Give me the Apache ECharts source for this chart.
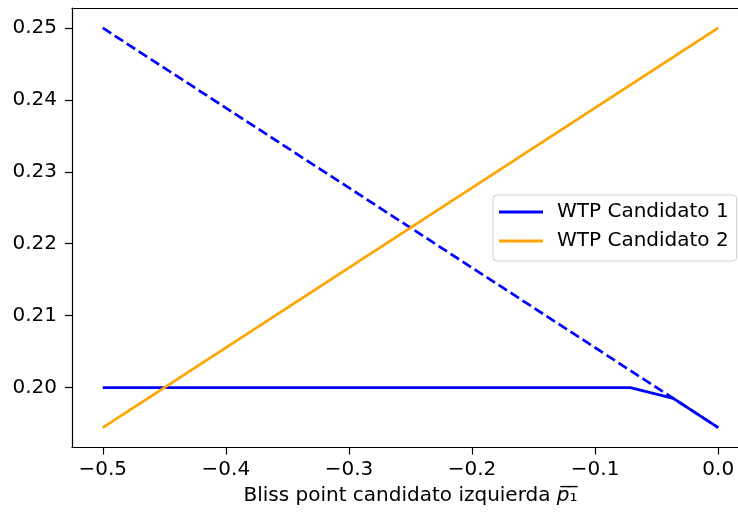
<!DOCTYPE html>
<html>
<head>
    <meta charset="utf-8">
    <title>WTP</title>
    <script src="https://cdn.jsdelivr.net/npm/echarts@6/dist/echarts.min.js"></script>
    <style>
        html, body { margin: 0; padding: 0; background: #fff; overflow: hidden; }
        #main { width: 749px; height: 514px; }
    </style>
</head>
<body>
<div id="main"></div>
<script>
    // datos
    var xTicks = [-0.5, -0.4, -0.3, -0.2, -0.1, 0.0];
    var yTicks = [0.20, 0.21, 0.22, 0.23, 0.24, 0.25];
    var cand1Solid = [[-0.5, 0.2], [-0.0714, 0.2], [-0.0365, 0.1985], [0.0, 0.19444]];
    var cand1Dashed = [[-0.5, 0.25], [0.0, 0.19444]];
    var cand2 = [[-0.5, 0.19444], [0.0, 0.25]];

    var font = 'DejaVu Sans';
    var fs = 20;
    function fmt(v, d) {
        return (v < 0 ? '\u2212' : '') + Math.abs(v).toFixed(d);
    }

    var myChart = echarts.init(document.getElementById('main'));
    var option = {
        animation: false,
        textStyle: { fontFamily: font },
        grid: { left: 72, right: 0, top: 8, bottom: 66.5 },
        legend: {
            data: ['WTP Candidato 1', 'WTP Candidato 2'],
            orient: 'vertical',
            left: 493, top: 195,
            padding: [7, 8, 10, 6],
            itemGap: 9,
            itemWidth: 44, itemHeight: 3,
            icon: 'rect',
            backgroundColor: 'rgba(255,255,255,0.8)',
            borderColor: '#cccccc', borderWidth: 1, borderRadius: 4,
            textStyle: { fontFamily: font, fontSize: fs, color: '#000', padding: [0, 0, 0, 9] }
        },
        xAxis: [{
            type: 'value', min: -0.525, max: 0.025,
            splitLine: { show: false },
            axisLine: { onZero: false, lineStyle: { color: '#000', width: 1.2 } },
            axisTick: { customValues: xTicks, length: 7, lineStyle: { color: '#000', width: 1.2 } },
            axisLabel: {
                customValues: xTicks, margin: 12, fontSize: fs, color: '#000', fontFamily: font,
                formatter: function (v) { return fmt(v, 1); }
            },
            name: 'Bliss point candidato izquierda {i|p\u0305}\u2081\u0305',
            nameLocation: 'middle', nameGap: 38,
            nameTextStyle: {
                fontSize: fs, color: '#000', fontFamily: font,
                rich: { i: { fontSize: fs, fontStyle: 'italic', fontFamily: font, color: '#000' } }
            }
        }, {
            // borde superior
            type: 'value', position: 'top', min: -0.525, max: 0.025,
            splitLine: { show: false }, axisTick: { show: false }, axisLabel: { show: false },
            axisLine: { onZero: false, lineStyle: { color: '#000', width: 1.2 } }
        }],
        yAxis: {
            type: 'value', min: 0.191667, max: 0.252778,
            splitLine: { show: false },
            axisLine: { onZero: false, lineStyle: { color: '#000', width: 1.2 } },
            axisTick: { customValues: yTicks, length: 7, lineStyle: { color: '#000', width: 1.2 } },
            axisLabel: {
                customValues: yTicks, margin: 15, fontSize: fs, color: '#000', fontFamily: font,
                formatter: function (v) { return fmt(v, 2); }
            }
        },
        series: [
            {
                name: 'dashed1', type: 'line', data: cand1Dashed,
                showSymbol: false, color: '#0000ff',
                lineStyle: { color: '#0000ff', width: 2.7, type: [10, 4.3] }
            },
            {
                name: 'WTP Candidato 1', type: 'line', data: cand1Solid,
                showSymbol: false, color: '#0000ff',
                lineStyle: { color: '#0000ff', width: 2.7 }
            },
            {
                name: 'WTP Candidato 2', type: 'line', data: cand2,
                showSymbol: false, color: '#ffa500',
                lineStyle: { color: '#ffa500', width: 2.7 }
            }
        ]
    };
    myChart.setOption(option);
</script>
</body>
</html>
